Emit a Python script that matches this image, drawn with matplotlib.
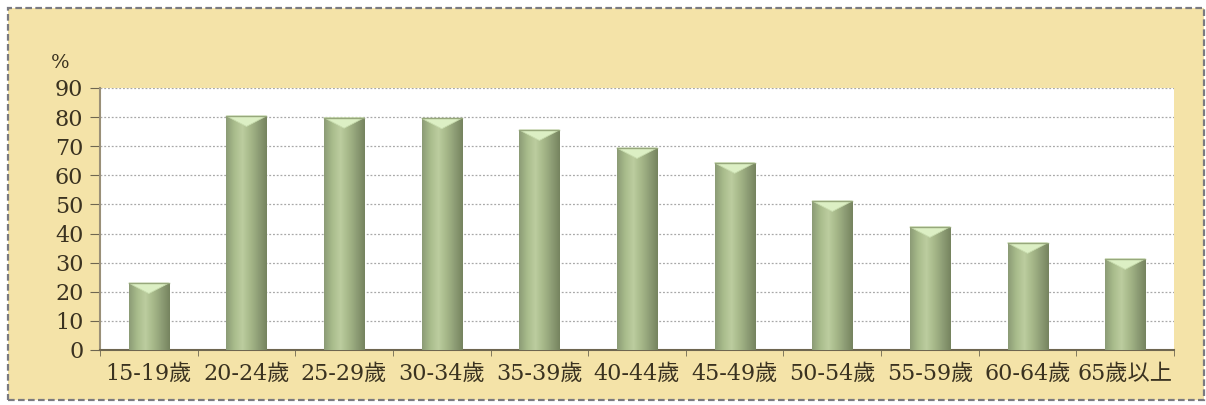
import numpy as np
import matplotlib.pyplot as plt
from matplotlib.patches import Rectangle, Polygon
from matplotlib.colors import LinearSegmentedColormap

# labour force participation by age group (%)
age_groups = ['15-19歲', '20-24歲', '25-29歲', '30-34歲', '35-39歲', '40-44歲',
              '45-49歲', '50-54歲', '55-59歲', '60-64歲', '65歲以上']
rates = [23.0, 80.4, 79.8, 79.6, 75.6, 69.4, 64.3, 51.2, 42.3, 36.8, 31.3]
y_ticks = [0, 10, 20, 30, 40, 50, 60, 70, 80, 90]

fonts = ['DejaVu Serif', 'Noto Sans CJK TC']
txt_color = '#3a3220'

fig = plt.figure(figsize=(12.06, 4.05), dpi=100)
fig.patch.set_facecolor('white')

# beige panel with dashed border
frame = Rectangle((8 / 1206, 5 / 405), 1196 / 1206, 392 / 405, transform=fig.transFigure,
                  facecolor='#f4e3a8', edgecolor='#7a7a80', linewidth=1.6,
                  linestyle=(0, (3, 1.5)), zorder=-10)
fig.patches.append(frame)

ax = fig.add_axes([100 / 1206, 55 / 405, 1074 / 1206, 262 / 405])
ax.set_facecolor('white')

x = np.arange(len(age_groups))
width = 0.41
bars = ax.bar(x, rates, width=width, color='#a4b688', edgecolor='none', zorder=3)

cmap = LinearSegmentedColormap.from_list('cyl', ['#8c9c76', '#a9bc8c', '#bccd9f', '#a6b889',
                                                 '#8e9e76', '#76845f'])
grad = np.linspace(0, 1, 64).reshape(1, -1)
for b, v in zip(bars, rates):
    x0 = b.get_x()
    x1 = x0 + b.get_width()
    im = ax.imshow(grad, cmap=cmap, aspect='auto', extent=(x0, x1, 0, v), zorder=4)
    im.set_clip_path(b)
    tri = Polygon([(x0, v), (x1, v), ((x0 + x1) / 2, v - 3.6)], closed=True,
                  facecolor='#dcefc4', edgecolor='#c8dcae', linewidth=0.6, zorder=5)
    ax.add_patch(tri)
    ax.plot([x0, x1], [v, v], color='#97a87c', linewidth=1.0, zorder=6)

ax.set_xlim(-0.5, len(age_groups) - 0.5)
ax.set_ylim(0, 90)
ax.set_yticks(y_ticks)
ax.set_xticks(x)
ax.set_xticklabels(age_groups)
ax.set_xticks(np.arange(len(age_groups) + 1) - 0.5, minor=True)

ax.yaxis.grid(True, linestyle=(0, (1.5, 1.5)), color='#a8a8a8', linewidth=0.9, zorder=1)
ax.set_axisbelow(True)

for s in ['top', 'right']:
    ax.spines[s].set_visible(False)
ax.spines['left'].set_color('#9a9078')
ax.spines['left'].set_linewidth(1.5)
ax.spines['bottom'].set_color('#6e6650')
ax.spines['bottom'].set_linewidth(1.5)

ax.tick_params(axis='x', which='major', length=0, pad=9)
ax.tick_params(axis='x', which='minor', length=4, color='#6e6650', direction='out')
ax.tick_params(axis='y', length=7, color='#6e6650', pad=5)

for lab in ax.get_xticklabels():
    lab.set_family(fonts)
    lab.set_fontsize(16)
    lab.set_color(txt_color)
for lab in ax.get_yticklabels():
    lab.set_family(fonts)
    lab.set_fontsize(16)
    lab.set_color(txt_color)

fig.text(51 / 1206, 1 - 63 / 405, '%', family=fonts, fontsize=14, color=txt_color,
         ha='left', va='center')

fig.savefig('out.png', dpi=100)
